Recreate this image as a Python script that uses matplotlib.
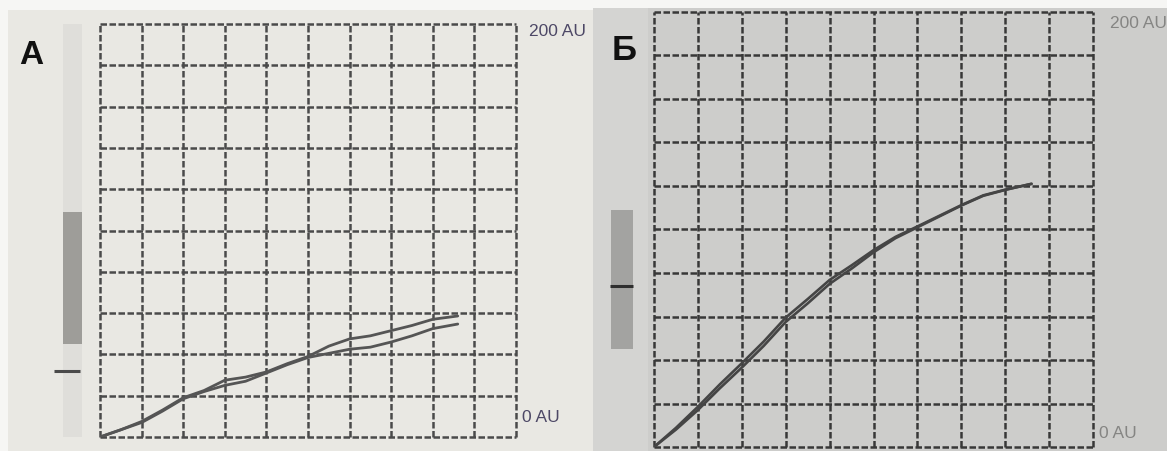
import matplotlib
matplotlib.use("Agg")
import matplotlib.pyplot as plt
from matplotlib.patches import Rectangle

# ---- data -------------------------------------------------------------
# time axis in grid divisions, aggregation in AU (0..200)
time_ticks = list(range(0, 11))
au_ticks = list(range(0, 201, 20))
au_labels = ["0 AU", "200 AU"]

a_time = [0, 0.5, 1, 1.5, 2, 2.5, 3, 3.5, 4, 4.5, 5, 5.5, 6, 6.5, 7, 7.5, 8, 8.6]
a_upper = [0, 3.5, 7.5, 13, 19, 22.5, 27.5, 29, 31.5, 35.5, 39, 44, 47.5, 49, 51.5, 54, 57, 58.6]
a_lower = [0, 3.5, 7, 12.5, 18.5, 22, 25, 27, 31, 35, 38.5, 40.5, 42.5, 43.5, 46, 49, 52.5, 54.7]

b_time = [0, 0.5, 1, 1.5, 2, 2.5, 3, 3.5, 4, 4.5, 5, 5.5, 6, 6.5, 7, 7.5, 8, 8.6]
b_first = [0, 8, 17, 27, 36.5, 46.5, 57.5, 66, 75, 82, 89.5, 96, 101, 106, 111, 115.5, 118.2, 121]
b_second = [0, 8.8, 18.5, 28.8, 38.5, 48.5, 59.5, 68, 76.8, 83.5, 90.5, 96.6, 101.4, 106.3, 111.2, 115.7, 118.3, 121]

ref_range = (45, 109)      # reference band on the side scale
result_a = 32
result_b = 74

W, H = 1167, 451
fig = plt.figure(figsize=(W / 100, H / 100), dpi=100, facecolor="#f6f6f4")


def fx(px):
    return px / W


def fy(py):
    return 1 - py / H


def frame(x0, y0, x1, y1, color):
    fig.patches.append(Rectangle((fx(x0), fy(y1)), fx(x1) - fx(x0), fy(y0) - fy(y1),
                                 transform=fig.transFigure, facecolor=color,
                                 edgecolor="none", zorder=-10))


# photo-like panel backgrounds
frame(8, 10, 593, 451, "#e9e8e3")
frame(593, 8, 1167, 451, "#cdcdcb")
frame(593, 8, 648, 451, "#d4d4d2")


def grid_axes(x0, y_top, x1, y_bot, color, lw):
    ax = fig.add_axes([fx(x0), fy(y_bot), fx(x1) - fx(x0), fy(y_top) - fy(y_bot)])
    ax.set_zorder(5)
    ax.set_xlim(0, 10)
    ax.set_ylim(0, 200)
    ax.axis("off")
    dash = (0, (2.6, 1.0))
    ax.vlines(time_ticks, 0, 200, colors=color, linewidth=lw,
              linestyles=[dash], clip_on=False)
    ax.hlines(au_ticks, 0, 10, colors=color, linewidth=lw,
              linestyles=[dash], clip_on=False)
    return ax


def side_bar(x0, y_top, x1, y_bot, full_color, band_color, tick_color, value, full=True):
    ax = fig.add_axes([fx(x0), fy(y_bot), fx(x1) - fx(x0), fy(y_top) - fy(y_bot)])
    ax.set_zorder(5)
    ax.set_xlim(0, 40)
    ax.set_ylim(0, 200)
    ax.axis("off")
    if full:
        ax.bar(22, 200, width=19, bottom=0, color=full_color, linewidth=0)
    ax.bar(22, ref_range[1] - ref_range[0], width=19 if full else 22,
           bottom=ref_range[0], color=band_color, linewidth=0)
    ax.hlines(value, 4 if full else 10, 30 if full else 33,
              colors=tick_color, linewidth=2.2)
    return ax


# ---- panel A ----------------------------------------------------------
ax_a = grid_axes(100, 24, 516, 437, "#4a4a4a", 1.8)
ax_a.plot(a_time, a_upper, color="#555555", lw=2.0, solid_capstyle="round",
          solid_joinstyle="round")
ax_a.plot(a_time, a_lower, color="#555555", lw=2.0, solid_capstyle="round",
          solid_joinstyle="round")
side_bar(50, 24, 90, 437, "#dfdeda", "#9e9d99", "#4a4a4a", result_a)

fig.text(fx(19), fy(55), "А", fontsize=24, fontweight="bold",
         family="Liberation Sans", color="#111111", va="center", ha="left")
fig.text(fx(529), fy(32), au_labels[1], fontsize=12.5, family="Liberation Sans",
         color="#4d4866", va="center", ha="left")
fig.text(fx(522), fy(418), au_labels[0], fontsize=12.5, family="Liberation Sans",
         color="#4d4866", va="center", ha="left")

# ---- panel Б ----------------------------------------------------------
ax_b = grid_axes(654, 12, 1093, 447, "#383838", 1.8)
ax_b.plot(b_time, b_first, color="#454545", lw=1.9, solid_capstyle="round",
          solid_joinstyle="round")
ax_b.plot(b_time, b_second, color="#454545", lw=1.9, solid_capstyle="round",
          solid_joinstyle="round")
side_bar(600, 12, 640, 447, "#d4d4d2", "#a3a3a1", "#2e2e2e", result_b, full=False)

fig.text(fx(612), fy(50), "Б", fontsize=25, fontweight="bold",
         family="Liberation Sans", color="#111111", va="center", ha="left")
fig.text(fx(1110), fy(23), au_labels[1], fontsize=12.5, family="Liberation Sans",
         color="#858583", va="center", ha="left")
fig.text(fx(1099), fy(433), au_labels[0], fontsize=12.5, family="Liberation Sans",
         color="#858583", va="center", ha="left")

fig.savefig("out.png", dpi=100, facecolor=fig.get_facecolor())
